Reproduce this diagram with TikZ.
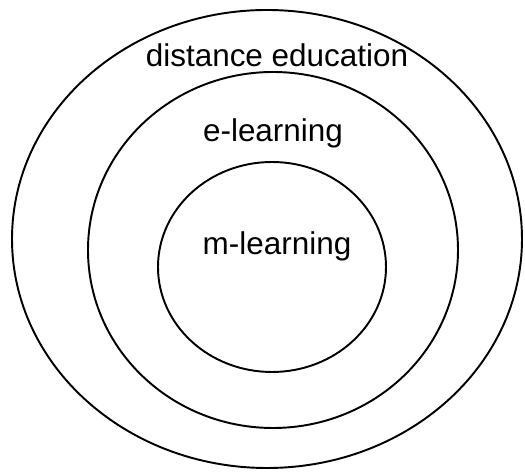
\documentclass[tikz,border=0pt]{standalone}
\usepackage{fontspec}
\setmainfont{Liberation Sans}
\usepackage{tikz}

\begin{document}
\begin{tikzpicture}[x=0.02cm,y=-0.02cm]
  \useasboundingbox (0,0) rectangle (525,472);
  \tikzset{ring/.style={line width=1.1pt},
    label/.style={anchor=base,inner sep=0pt,font=\fontsize{17.9pt}{20pt}\selectfont}}
  % 1. the three rings, outer to inner
  \draw[ring] (267,239) ellipse [x radius=255, y radius=229];
  \draw[ring] (273,250) ellipse [x radius=185, y radius=178];
  \draw[ring] (272,267) ellipse [x radius=114, y radius=105];
  % 2. ring labels
  \node[label] (dist) at (277,67) {distance education};
  \node[label] (elearn) at (273,142) {e-learning};
  \node[label] (mlearn) at (277,255) {m-learning};
\end{tikzpicture}
\end{document}
